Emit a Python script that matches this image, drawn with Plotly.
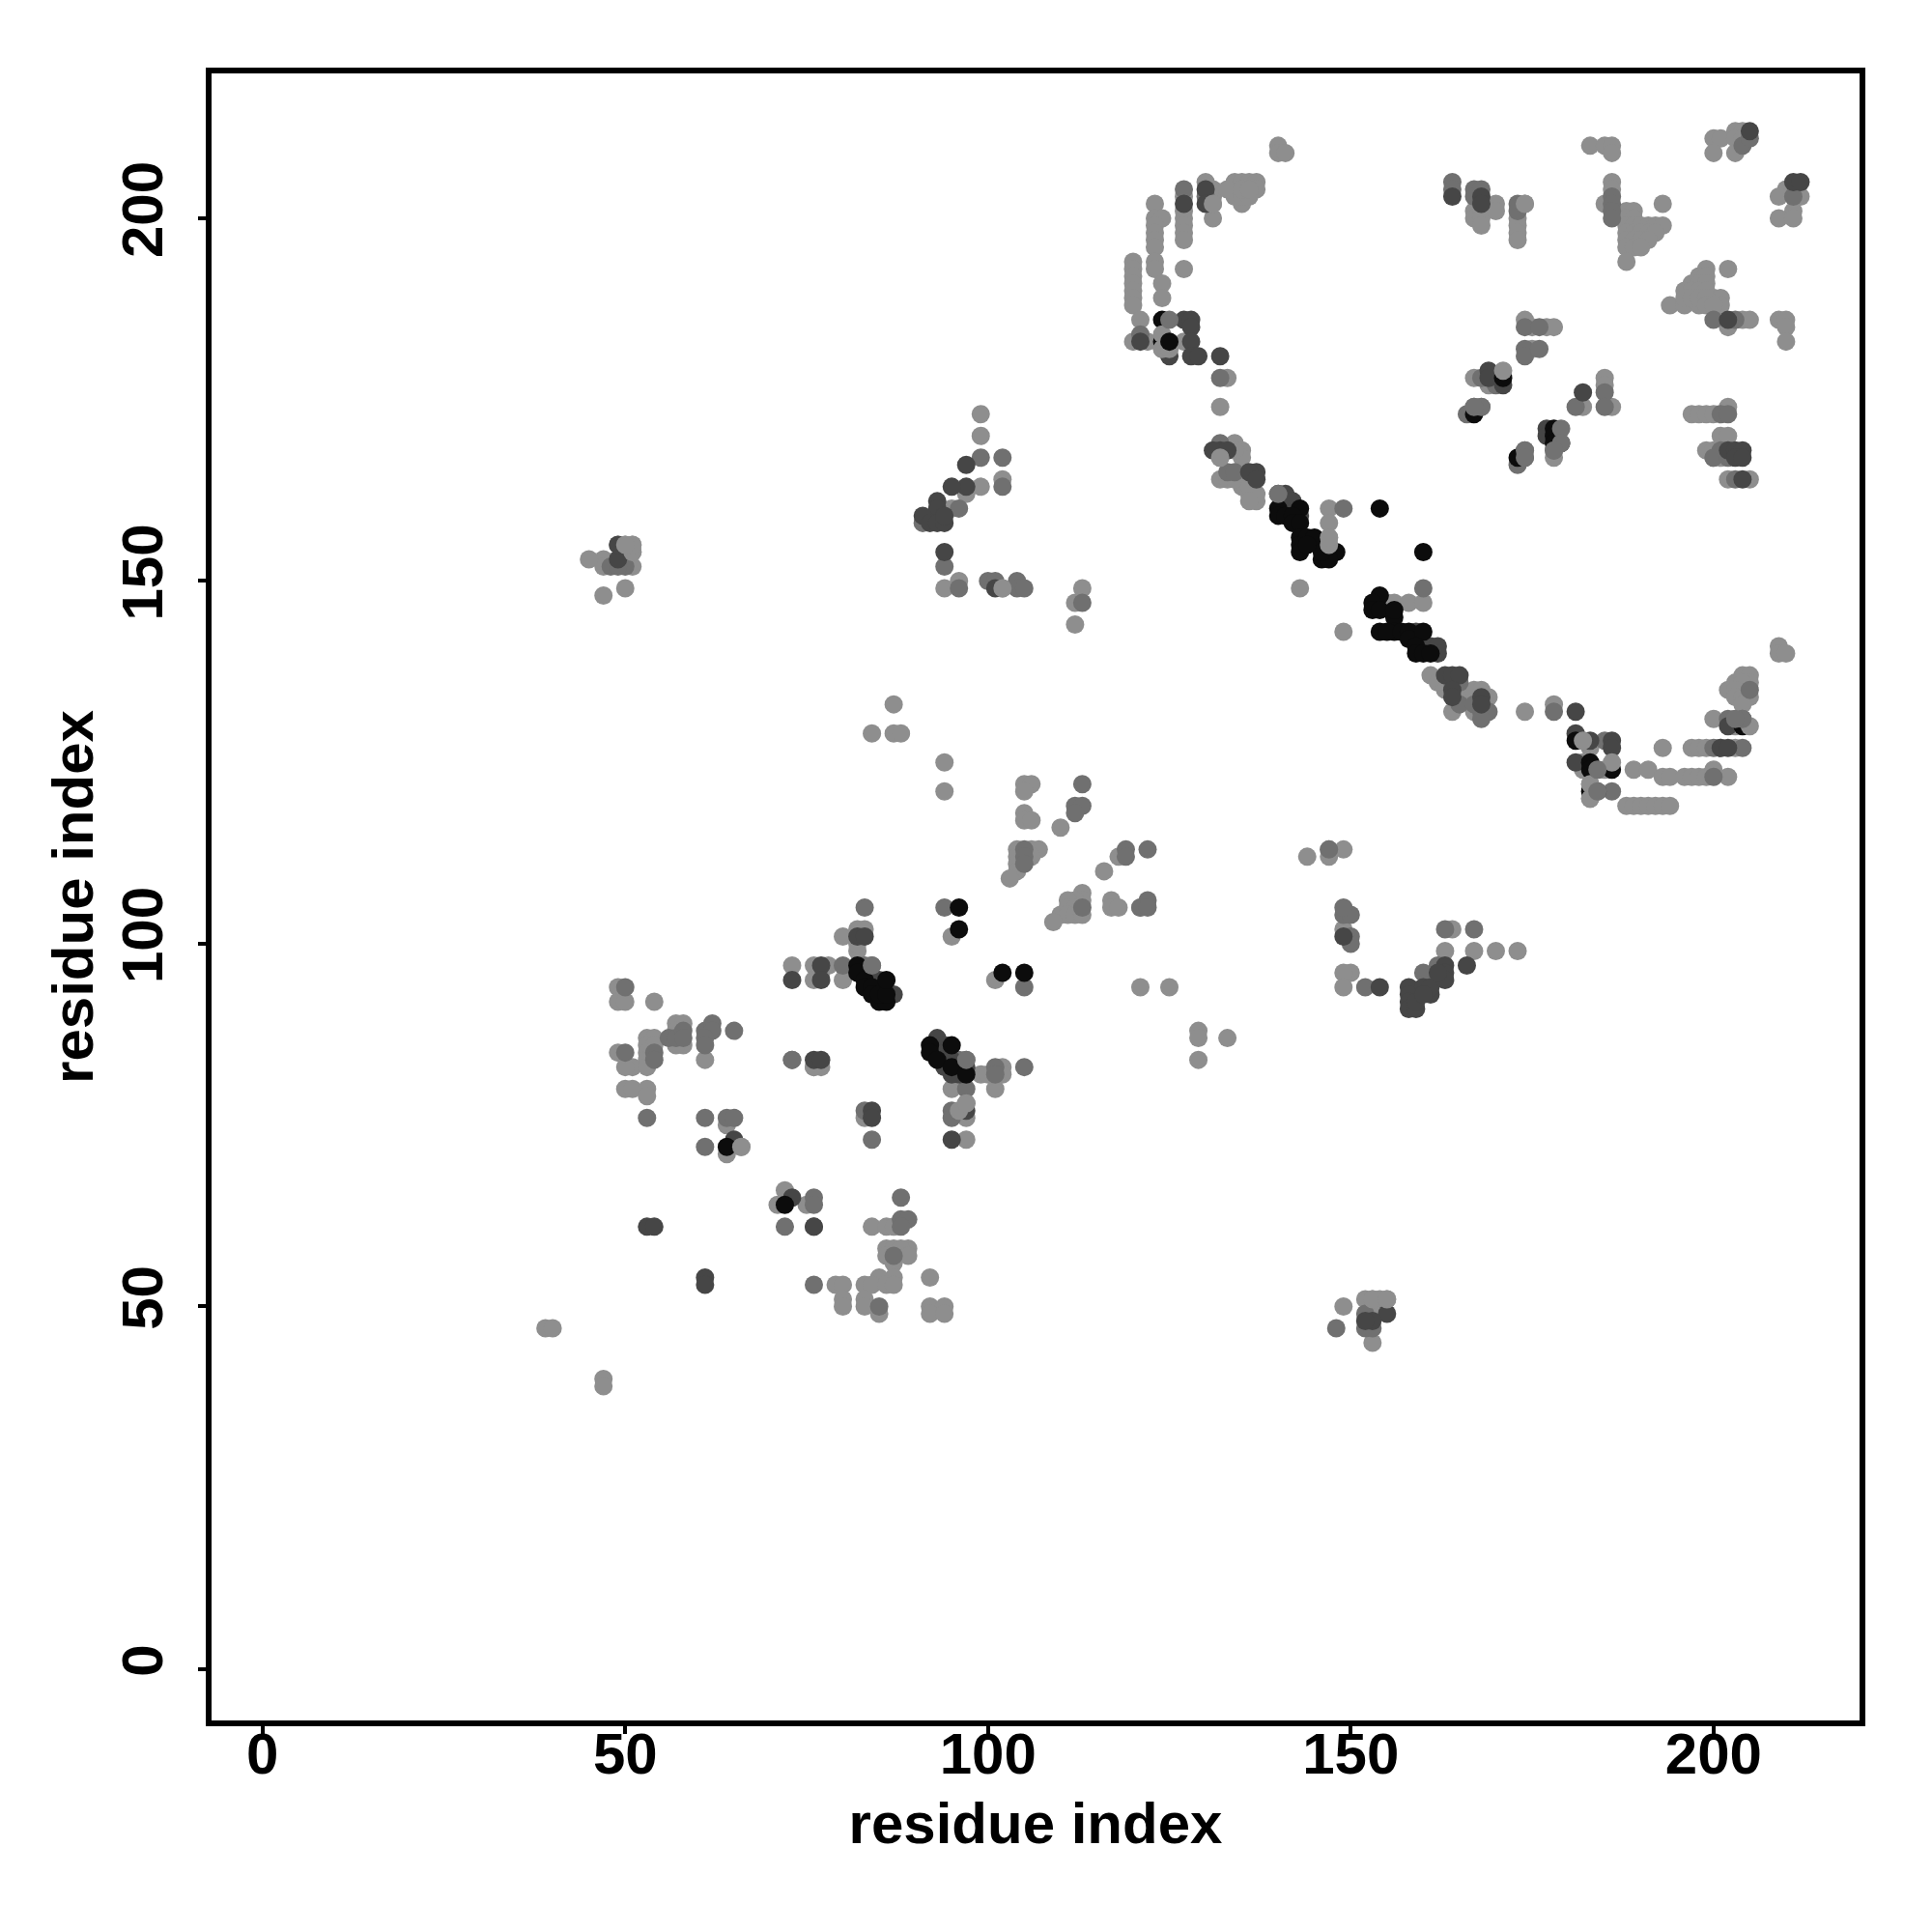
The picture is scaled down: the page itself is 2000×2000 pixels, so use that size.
import plotly.graph_objects as go

tick_values = [0, 50, 100, 150, 200]
axis_title = "residue index"

light = [
(140,210),(140,209),(141,209),(130,205),(131,204),(131,203),(131,202),(131,200),(127,203),(127,201),(127,200),(127,199),(127,198),(127,197),(127,193),
(123,202),(123,200),(124,200),(123,199),(123,198),(123,197),(123,196),(123,194),(123,193),(124,191),(124,189),
(120,194),(120,193),(120,192),(120,191),(120,190),(120,189),(120,188),(121,186),(120,183),(122,183),(124,182),(125,182),(127,183),(133,178),(132,174),
(134,205),(135,205),(136,205),(137,205),(137,204),(135,202),(134,203),(133,204),(135,203),(136,203),(135,204),(136,204),
(134,169),(135,168),(135,167),(134,168),(132,167),(132,164),(133,164),(135,163),(134,164),(137,161),(136,162),(136,163),(137,162),(136,161),
(147,160),(147,158),(147,156),(147,155),(143,149),(149,143),(155,147),(156,147),(158,147),(160,147),
(161,137),(162,136),(163,135),(164,132),(166,134),(167,135),(168,135),(169,134),(167,132),(174,132),(178,133),
(183,127),(182,125),(182,124),(185,124),(183,122),(183,120),(188,119),(189,119),(190,119),(191,119),(192,119),(193,119),(194,119),
(189,124),(191,124),(193,123),(194,123),(196,123),(197,123),(198,123),(199,123),(202,123),(200,124),
(193,127),(197,127),(198,127),(199,127),(201,127),(203,127),(200,131),(203,131),(203,130),
(202,135),(203,136),(204,137),(205,137),(204,135),(205,136),(204,136),(203,135),(205,134),(203,134),(204,134),(204,133),(209,141),(209,140),(210,140),
(167,201),(167,200),(168,201),(168,200),(168,199),(170,202),(170,201),(174,202),(173,200),(173,199),(173,198),(173,197),
(183,210),(185,210),(186,210),(186,209),(186,205),(186,204),(185,202),
(188,201),(189,201),(188,200),(189,200),(188,199),(189,199),(190,199),(191,199),(192,199),(193,199),(188,198),(189,198),(190,198),(191,198),(192,198),
(188,197),(189,197),(190,197),(191,197),(188,196),(189,196),(190,196),(188,194),(193,202),
(199,193),(202,193),(198,192),(199,192),(197,191),(198,191),(199,191),(196,190),(197,190),(198,190),(199,190),(200,189),(201,189),(194,188),(196,188),(198,188),
(196,189),(197,189),(198,189),(199,189),(199,188),(201,188),(200,188),(204,186),(205,186),(202,185),(209,186),(210,186),(210,185),(210,183),
(200,211),(201,211),(200,209),(203,212),(204,212),(203,211),(204,211),(203,209),(210,204),(211,204),(209,203),(212,203),(211,201),(209,200),(211,200),
(174,186),(175,185),(177,185),(178,185),(175,182),(167,178),(182,174),(185,178),(185,177),(186,174),(169,177),(178,167),
(197,173),(198,173),(199,173),(200,173),(202,174),(201,170),(202,170),(199,168),(200,168),(200,167),(201,167),(205,164),(202,164),
(99,173),(99,170),(99,163),(102,164),(97,162),(95,160),(94,149),(96,150),(102,149),(113,149),(112,147),(112,144),(87,133),(84,129),(87,129),(88,129),(94,125),(94,121),
(49,155),(50,155),(51,155),(51,154),(50,154),(51,152),(47,153),(47,152),(45,153),(50,149),(47,148),
(105,122),(106,122),(105,121),(105,118),(105,117),(106,117),(110,116),(104,113),(106,113),(107,113),(104,112),(106,112),(104,111),(104,110),(103,109),
(116,110),(118,112),(113,107),(113,106),(112,106),(111,106),(111,105),(112,105),(110,104),(111,104),(112,104),(113,104),(109,103),(117,106),(117,105),(118,105),(121,105),
(101,95),(121,94),(125,94),(129,88),(129,87),(133,87),(129,84),(144,112),(147,113),(147,112),(149,113),(149,102),(150,96),(149,96),(149,94),(163,99),(164,102),(167,99),(170,99),(173,99),
(95,101),(80,101),(82,102),(83,102),(82,99),(82,100),(76,97),(78,97),(76,95),(77,96),(80,95),(99,82),(102,83),(100,82),(101,80),(102,82),(95,80),(96,77),(97,76),(97,73),(76,83),(77,83),(83,76),(73,97),
(49,94),(49,92),(50,92),(54,92),(57,89),(58,89),(57,88),(58,86),(57,86),(61,84),(53,87),(54,87),(53,86),(54,86),(53,85),(53,84),(51,83),(53,83),(50,83),(49,85),(50,80),(51,80),(53,80),(53,79),(64,75),(66,72),(64,71),(76,83),
(72,66),(71,64),(75,64),(84,61),(86,61),(87,61),(86,58),(87,58),(89,58),(88,58),(86,57),(89,57),(87,56),(87,54),(85,54),(83,53),(84,53),(86,53),(87,53),(92,54),(79,53),(80,53),
(80,51),(80,50),(83,51),(83,50),(85,49),(92,50),(94,50),(92,49),(94,49),(149,50),(152,51),(153,51),(153,45),(155,51),(154,51),(153,49),(39,47),(40,47),(47,40),(47,39),
]

mid = [
(127,204),(130,203),(121,184),(132,178),(132,169),(133,165),(134,165),(149,160),(160,149),(164,136),(165,136),(165,133),(167,133),(168,132),(169,132),(168,131),(178,132),
(182,128),(185,128),(184,124),(186,121),(200,123),(200,127),(204,127),(202,131),(204,131),(205,135),
(164,205),(164,204),(167,204),(167,203),(168,204),(173,202),(173,201),(186,203),(186,202),(186,201),(186,200),(200,186),(203,186),(201,173),(202,173),
(204,210),(205,211),(211,203),(174,185),(176,185),(174,182),(174,181),(168,178),(170,178),(170,177),(168,174),(167,174),(166,173),(178,168),(174,168),(174,167),(173,166),(181,174),(185,176),(185,174),
(201,168),(200,167),(202,167),(203,164),
(99,167),(102,167),(102,163),(96,160),(91,158),(94,152),(96,149),(100,150),(101,150),(104,150),(104,149),(105,149),(113,147),(50,152),(48,152),(49,152),
(113,122),(112,119),(113,119),(112,118),(105,113),(105,112),(105,111),(119,113),(122,113),(119,112),(113,105),(122,106),(121,105),(122,105),
(105,94),(149,104),(150,104),(150,101),(150,100),(152,94),(147,113),(160,96),(162,97),(163,102),(149,105),(167,102),
(83,105),(94,105),(80,97),(83,97),(84,97),(96,84),(97,84),(101,83),(101,82),(105,83),(97,80),(95,77),(97,78),(95,76),(84,73),(83,77),
(50,94),(50,85),(54,85),(54,84),(56,87),(57,87),(58,88),(58,87),(61,88),(62,89),(62,88),(61,87),(61,86),(65,88),(53,76),(61,76),(64,76),(65,76),(61,72),(73,84),
(72,61),(76,65),(76,64),(88,65),(88,62),(89,62),(88,61),(87,57),(76,53),(85,50),(148,47),(152,49),(152,47),(153,47),(76,61),(73,84),
]

dark = [
(130,204),(130,202),(127,202),(121,183),(127,186),(128,186),(128,185),(128,183),(128,181),(129,181),(132,181),(125,181),
(132,168),(131,168),(133,168),(137,165),(136,165),(137,164),(140,162),(141,162),(141,160),(142,161),(143,159),(159,143),(160,141),(161,141),(162,141),(162,140),
(163,137),(164,137),(165,137),(164,135),(164,134),(168,134),(168,133),(181,132),(181,129),(183,128),(186,128),(186,127),(181,125),(184,121),(201,127),(202,127),(202,130),
(164,203),(168,203),(168,202),(202,186),(205,212),(211,205),(212,205),(182,176),(169,179),(169,178),(171,177),(177,171),(177,170),(179,169),(202,168),(203,168),(204,168),(203,167),(204,167),(204,164),
(97,166),(97,163),(95,163),(93,161),(93,160),(91,159),(92,158),(93,158),(94,158),(94,159),(94,154),(101,149),(49,153),(49,155),
(154,94),(158,94),(158,93),(158,92),(158,91),(159,91),(159,92),(161,93),(160,94),(161,94),(163,97),(163,96),(163,95),(162,96),(166,97),(149,101),(160,93),
(82,101),(83,101),(77,97),(77,95),(85,95),(87,93),(93,87),(94,86),(93,85),(94,84),(95,84),(94,83),(97,83),(96,83),(96,82),(95,82),(76,84),(77,84),(97,77),(95,73),(84,77),(84,76),
(73,95),(65,73),(73,65),(76,61),(155,49),(153,48),(152,48),(61,54),(61,53),(53,61),(54,61),
]

black = [
(124,186),(124,183),(140,160),(140,159),(143,160),(154,160),(160,154),(148,154),(146,153),(147,153),(141,159),(142,159),(142,158),(143,158),(143,156),(143,155),(143,154),(144,156),(145,156),(146,154),(144,155),
(154,148),(153,147),(153,146),(154,146),(156,145),(156,146),(156,143),(154,143),(155,143),(157,143),(158,143),(158,142),(160,143),(159,141),(159,140),(160,140),(161,140),
(181,128),(183,125),(183,124),(186,124),(183,121),(204,130),(171,178),(178,171),(178,170),(178,169),(173,167),(167,173),
(96,105),(96,102),(102,96),(105,96),(82,97),(82,96),(83,95),(83,94),(84,94),(84,93),(85,92),(86,92),(85,93),(86,93),(86,95),(92,86),(92,85),(95,86),(93,84),(95,83),(97,82),(64,72),(72,64),
]

on_top_light = [
(132,167),(131,202),(183,122),(183,120),(186,125),(205,130),(171,179),(174,202),(96,77),(97,78),(66,72),(153,51),(155,51),(102,149),(51,154),(51,155),(50,155),
(124,184),(124,182),(125,182),(182,128),(147,155),(147,156),
]

on_top_mid = [
(125,186),(176,182),(84,97),(97,84),(179,171),(179,169),(178,168),(174,168),(174,167),(168,174),(167,174),(184,124),(184,121),(204,131),(203,131),(140,162),
]

on_top_black = [(125,183)]

fig = go.Figure()
for pts, colour in [(light, "#8e8e8e"), (mid, "#707070"), (dark, "#464646"), (black, "#0c0c0c"),
                    (on_top_light, "#8e8e8e"), (on_top_mid, "#727272"), (on_top_black, "#0c0c0c")]:
    fig.add_trace(go.Scatter(
        x=[p[0] for p in pts], y=[p[1] for p in pts], mode="markers",
        marker=dict(color=colour, size=19, line=dict(width=0)),
        showlegend=False, hoverinfo="skip", cliponaxis=True,
    ))

axis_font = dict(family="Liberation Sans", size=60, color="black", weight="bold")
common = dict(
    showgrid=False, zeroline=False, showline=True, mirror=True, linecolor="black", linewidth=6,
    ticks="outside", ticklen=8, tickwidth=4, tickcolor="black",
    tickmode="array", tickvals=tick_values, ticktext=[str(v) for v in tick_values],
    tickfont=axis_font,
    title=dict(text=axis_title, font=axis_font),
)
fig.update_xaxes(range=[-7.02, 220.13], ticklabelstandoff=-31, title_standoff=20, **common)
fig.update_yaxes(range=[-7.06, 219.97], tickangle=-90, ticklabelstandoff=13, title_standoff=0, **common)
fig.update_layout(
    width=1984, height=1984, autosize=False,
    plot_bgcolor="white", paper_bgcolor="white",
    margin=dict(l=211, r=67, t=68, b=211, pad=0),
    font=dict(family="Liberation Sans"),
)
fig.write_html("out.html")
